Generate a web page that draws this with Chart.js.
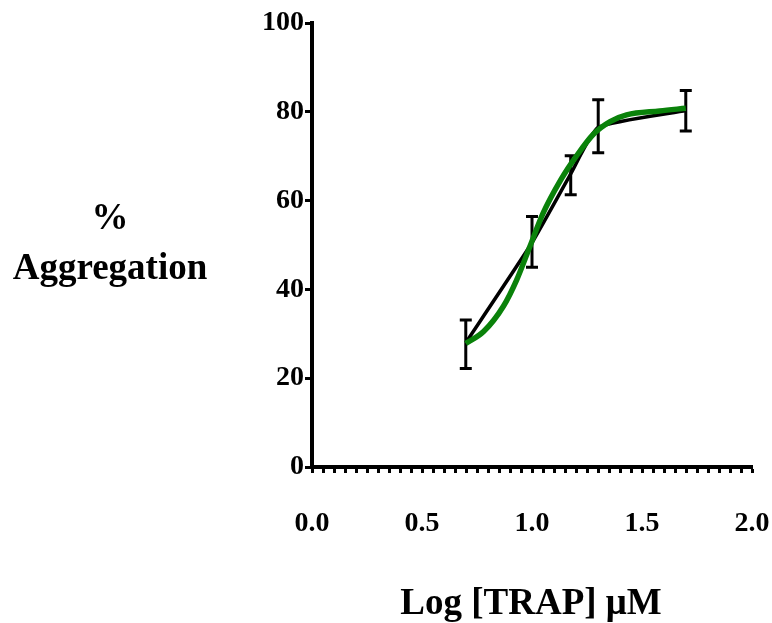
<!DOCTYPE html>
<html>
<head>
<meta charset="utf-8">
<script src="https://cdn.jsdelivr.net/npm/chart.js@4/dist/chart.umd.min.js"></script>
<style>
  html, body { margin: 0; padding: 0; background: #fff; }
  canvas { display: block; }
</style>
</head>
<body>
<canvas id="chartTrap" width="772" height="623"></canvas>
<script>
// Log dose and mean aggregation (black line with SEM bars)
const logDose = [0.699, 1.0, 1.176, 1.301, 1.699];
const meanAgg = [28.0, 50.5, 66.0, 76.5, 80.3];
const errHigh = [33.1, 56.4, 70.1, 82.7, 84.8];
const errLow = [22.2, 45.0, 61.3, 70.8, 75.7];

// Fitted curve (green)
const fitX = [0.699, 0.78, 0.87, 0.93, 0.99, 1.05, 1.13, 1.20, 1.28, 1.355, 1.43, 1.58, 1.699];
const fitY = [27.8, 30.5, 36.2, 42.1, 49.6, 57.1, 64.6, 69.9, 75.0, 77.8, 79.3, 80.2, 80.8];

const yTicks = [0, 20, 40, 60, 80, 100];
const xLabels = ["0.0", "0.5", "1.0", "1.5", "2.0"];

const serif = '"Liberation Serif", "Times New Roman", serif';

// Error bars under the lines
const errorBars = {
    id: "errorBars",
    beforeDatasetsDraw(chart) {
        const ctx = chart.ctx;
        const xs = chart.scales.x;
        const ys = chart.scales.y;
        ctx.save();
        ctx.strokeStyle = "#000";
        ctx.lineWidth = 3;
        ctx.lineCap = "butt";
        logDose.forEach(function (d, i) {
            const px = xs.getPixelForValue(d);
            const top = ys.getPixelForValue(errHigh[i]);
            const bot = ys.getPixelForValue(errLow[i]);
            ctx.beginPath();
            ctx.moveTo(px, top);
            ctx.lineTo(px, bot);
            ctx.moveTo(px - 6, top);
            ctx.lineTo(px + 6, top);
            ctx.moveTo(px - 6, bot);
            ctx.lineTo(px + 6, bot);
            ctx.stroke();
        });
        ctx.restore();
    }
};

// Axis titles
const axisTitles = {
    id: "axisTitles",
    afterDraw(chart) {
        const ctx = chart.ctx;
        ctx.save();
        ctx.fillStyle = "#000";
        ctx.font = "bold 37px " + serif;
        ctx.textAlign = "center";
        ctx.textBaseline = "middle";
        ctx.fillText("%", 110, 219);
        ctx.fillText("Aggregation", 110, 269);
        ctx.fillText("Log [TRAP] \u03BCM", 531, 604);
        ctx.restore();
    }
};

const ctx = document.getElementById("chartTrap").getContext("2d");
new Chart(ctx, {
    type: "scatter",
    data: {
        datasets: [{
            label: "Fit",
            data: fitX.map(function (x, i) { return { x: x, y: fitY[i] }; }),
            showLine: true,
            borderColor: "#0a820a",
            borderWidth: 5.5,
            pointRadius: 0,
            cubicInterpolationMode: "monotone"
        }, {
            label: "Mean",
            data: logDose.map(function (x, i) { return { x: x, y: meanAgg[i] }; }),
            showLine: true,
            borderColor: "#000",
            borderWidth: 3.5,
            pointRadius: 0,
            tension: 0.15
        }]
    },
    options: {
        responsive: false,
        animation: false,
        layout: { padding: { top: 23, right: 20, left: 0, bottom: 0 } },
        plugins: { legend: { display: false }, tooltip: { enabled: false } },
        scales: {
            x: {
                type: "linear",
                min: 0,
                max: 2,
                afterFit: function (scale) {
                    scale.height = 156;
                    scale.paddingLeft = 0;
                    scale.paddingRight = 0;
                },
                border: { display: true, color: "#000", width: 4 },
                grid: {
                    drawOnChartArea: false,
                    drawTicks: true,
                    tickLength: 6,
                    tickWidth: 3,
                    tickColor: "#000"
                },
                ticks: {
                    stepSize: 0.05,
                    autoSkip: false,
                    maxRotation: 0,
                    padding: 34,
                    color: "#000",
                    font: { family: serif, size: 28, weight: "bold" },
                    callback: function (v) {
                        const k = Math.round(v * 2);
                        if (Math.abs(v * 2 - k) < 1e-6) return xLabels[k];
                        return "";
                    }
                }
            },
            y: {
                min: 0,
                max: 100,
                afterFit: function (scale) { scale.width = 312; },
                border: { display: true, color: "#000", width: 4 },
                grid: {
                    drawOnChartArea: false,
                    drawTicks: true,
                    tickLength: 7,
                    tickWidth: 3,
                    tickColor: "#000"
                },
                ticks: {
                    stepSize: 20,
                    padding: 1,
                    color: "#000",
                    font: { family: serif, size: 28, weight: "bold" },
                    callback: function (v) { return yTicks.includes(v) ? String(v) : ""; }
                }
            }
        }
    },
    plugins: [errorBars, axisTitles]
});
</script>
</body>
</html>
